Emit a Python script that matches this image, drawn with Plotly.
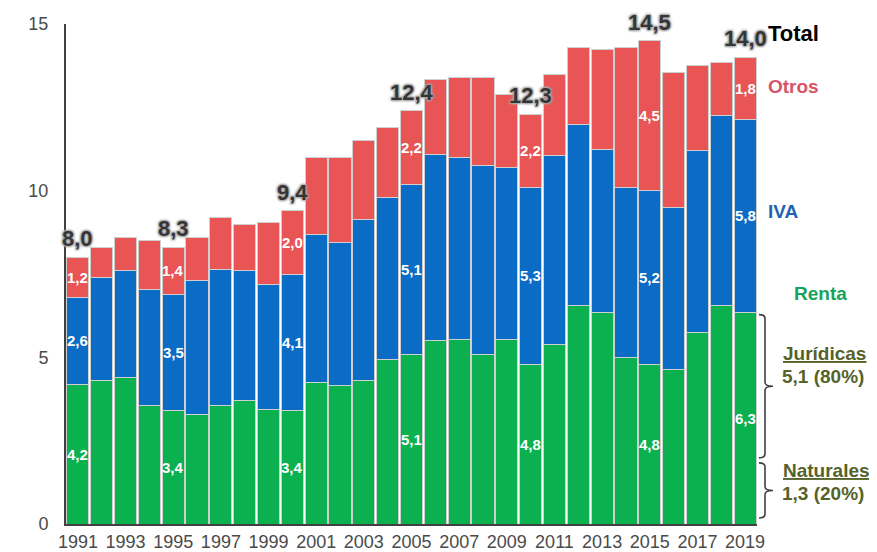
import plotly.graph_objects as go

# --- Datos (% del PIB) ---
years = list(range(1991, 2020))

renta = [4.2, 4.3, 4.4, 3.55, 3.4, 3.3, 3.55, 3.7, 3.45, 3.4,
         4.25, 4.15, 4.3, 4.95, 5.1, 5.5, 5.55, 5.1, 5.55, 4.8,
         5.4, 6.55, 6.35, 5.0, 4.8, 4.65, 5.75, 6.55, 6.35]
iva = [2.6, 3.1, 3.2, 3.5, 3.5, 4.0, 4.1, 3.9, 3.75, 4.1,
       4.45, 4.3, 4.85, 4.85, 5.1, 5.6, 5.45, 5.65, 5.15, 5.3,
       5.65, 5.45, 4.9, 5.1, 5.2, 4.85, 5.45, 5.7, 5.8]
otros = [1.2, 0.9, 1.0, 1.45, 1.4, 1.3, 1.55, 1.4, 1.85, 1.9,
         2.3, 2.55, 2.35, 2.1, 2.2, 2.25, 2.4, 2.65, 2.2, 2.2,
         2.45, 2.3, 3.0, 4.2, 4.5, 4.05, 2.55, 1.6, 1.85]

# etiquetas dentro de las barras
label_years = [1991, 1995, 2000, 2005, 2010, 2015, 2019]
renta_lbl = ["4,2", "3,4", "3,4", "5,1", "4,8", "4,8", "6,3"]
iva_lbl = ["2,6", "3,5", "4,1", "5,1", "5,3", "5,2", "5,8"]
otros_lbl = ["1,2", "1,4", "2,0", "2,2", "2,2", "4,5", "1,8"]
total_lbl = ["8,0", "8,3", "9,4", "12,4", "12,3", "14,5", "14,0"]

RED = "#E95454"
BLUE = "#0B6CC6"
GREEN = "#0BB04F"
FONT = "Liberation Sans, Arial"

fig = go.Figure()
for name, vals, col in [("Renta", renta, GREEN), ("IVA", iva, BLUE), ("Otros", otros, RED)]:
    fig.add_trace(go.Bar(x=years, y=vals, name=name, width=0.93,
                         marker=dict(color=col, line=dict(color="#cfcfcf", width=1))))

annotations = []
# valores dentro de las barras (centro de cada segmento) y total arriba
halo = "1px 1px 2px #aaaaaa, -1px -1px 2px #aaaaaa, 1px -1px 2px #aaaaaa, -1px 1px 2px #aaaaaa"
for i, yr in enumerate(label_years):
    k = years.index(yr)
    g, b, r = renta[k], iva[k], otros[k]
    for txt, ymid in [(renta_lbl[i], g / 2), (iva_lbl[i], g + b / 2), (otros_lbl[i], g + b + r / 2)]:
        annotations.append(dict(x=yr, y=ymid, text=txt, showarrow=False,
                                font=dict(family=FONT, size=15, color="white", weight="bold")))
    annotations.append(dict(x=yr, y=g + b + r, text=total_lbl[i], showarrow=False,
                            yanchor="bottom", yshift=5, borderpad=0,
                            font=dict(family=FONT, size=22, color="#353535", weight="bold", shadow=halo)))

# textos a la derecha (posiciones en pixeles de la pagina -> coordenadas paper)
def side(text, px, py, color, size=19):
    return dict(xref="paper", yref="paper", x=(px - 66) / 691, y=(523 - py) / 499,
                text=text, showarrow=False, xanchor="left", yanchor="middle",
                font=dict(family=FONT, size=size, color=color, weight="bold"))

annotations += [
    side("Total", 766, 33, "black", 22),
    side("Otros", 766, 86, "#D65468"),
    side("IVA", 766, 211, "#1F64B0"),
    side("Renta", 792, 293, "#17A35A"),
    side("<u>Jurídicas</u>", 781, 353, "#55632A"),
    side("5,1 (80%)", 780, 376, "#55632A"),
    side("<u>Naturales</u>", 781, 470, "#55632A"),
    side("1,3 (20%)", 780, 493, "#55632A"),
]

# llaves
def brace(ptop, pbot):
    px = lambda v: (v - 66) / 691
    py = lambda v: (523 - v) / 499
    mid = (ptop + pbot) / 2
    x0, x1, x2 = px(759), px(765), px(773)
    r = 4 / 499
    return dict(type="path", xref="paper", yref="paper",
                path=(f"M{x0},{py(ptop)} Q{x1},{py(ptop)} {x1},{py(ptop) - r} "
                      f"L{x1},{py(mid) + r} Q{x1},{py(mid)} {x2},{py(mid)} "
                      f"Q{x1},{py(mid)} {x1},{py(mid) - r} "
                      f"L{x1},{py(pbot) + r} Q{x1},{py(pbot)} {x0},{py(pbot)}"),
                line=dict(color="#404040", width=1.6))

# la pagina tiene un margen de 8px alrededor de la figura
fig.update_layout(
    template="none",
    barmode="stack",
    width=869, height=544,
    margin=dict(l=58, r=120, t=16, b=28),
    plot_bgcolor="white", paper_bgcolor="white",
    showlegend=False,
    annotations=annotations,
    shapes=[brace(314, 457), brace(462, 517)],
    font=dict(family=FONT),
)
fig.update_xaxes(range=[1990.5, 2019.5], tick0=1991, dtick=2, showgrid=False, automargin=False,
                 showline=True, linecolor="#404040", linewidth=2, ticks="",
                 tickfont=dict(size=18, color="#4a4a4a"), ticklabelstandoff=0)
fig.update_yaxes(range=[0, 15], tickvals=[0, 5, 10, 15], showgrid=False, zeroline=False, automargin=False,
                 showline=True, linecolor="#404040", linewidth=2, ticks="",
                 tickfont=dict(size=18, color="#4a4a4a"), ticklabelstandoff=12)

fig.write_html("out.html")
